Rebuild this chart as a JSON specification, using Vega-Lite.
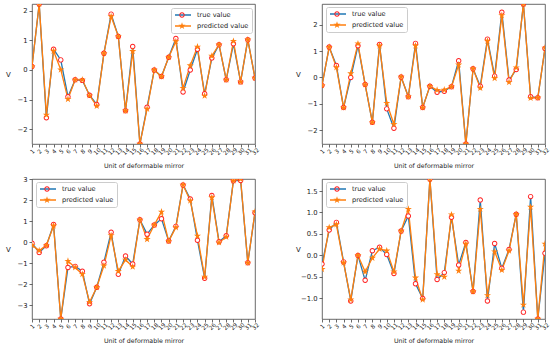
{
"$schema": "https://vega.github.io/schema/vega-lite/v6.json",
"padding": {"left": 5, "top": 3, "right": 0, "bottom": 0},
"bounds": "flush",
"columns": 2,
"spacing": {"row": 35, "column": 67},
"resolve": {"scale": {"stroke": "independent", "fill": "independent", "shape": "independent"}},
"config": {
 "font": "DejaVu Sans",
 "view": {"stroke": "#444444", "strokeWidth": 0.8},
 "axis": {"domain": false, "grid": false, "tickColor": "#444444", "tickSize": 3, "tickWidth": 0.8, "labelColor": "#222222", "titleColor": "#222222", "titleFontWeight": "normal", "labelFontSize": 6.8, "titleFontSize": 6.3, "labelFont": "DejaVu Sans", "titleFont": "DejaVu Sans"},
 "axisX": {"labelFontSize": 5.8, "labelAngle": -45, "labelAlign": "center", "labelBaseline": "middle", "labelPadding": 4, "titleY": 21, "titleBaseline": "middle", "labelOverlap": false, "labelFlush": false},
 "axisY": {"labelPadding": 2, "titleAngle": 0, "titleX": -24, "titleY": 70, "titleAlign": "center", "titleBaseline": "middle", "titleFontSize": 7, "labelFlush": false, "labelOverlap": false},
 "legend": {"labelFont": "DejaVu Sans", "labelFontSize": 6.6, "labelColor": "#222222", "title": null, "padding": 3, "rowPadding": 3, "clipHeight": 8, "labelOffset": 5}
},
"datasets": {
"p1": [
{"u":1,"s":"true value","v":0.12},{"u":2,"s":"true value","v":2.22},{"u":3,"s":"true value","v":-1.61},{"u":4,"s":"true value","v":0.70},{"u":5,"s":"true value","v":0.34},{"u":6,"s":"true value","v":-0.90},{"u":7,"s":"true value","v":-0.33},{"u":8,"s":"true value","v":-0.35},{"u":9,"s":"true value","v":-0.85},{"u":10,"s":"true value","v":-1.16},{"u":11,"s":"true value","v":0.56},{"u":12,"s":"true value","v":1.88},{"u":13,"s":"true value","v":1.13},{"u":14,"s":"true value","v":-1.37},{"u":15,"s":"true value","v":0.79},{"u":16,"s":"true value","v":-2.49},{"u":17,"s":"true value","v":-1.25},{"u":18,"s":"true value","v":0.00},{"u":19,"s":"true value","v":-0.22},{"u":20,"s":"true value","v":0.43},{"u":21,"s":"true value","v":1.06},{"u":22,"s":"true value","v":-0.74},{"u":23,"s":"true value","v":0.00},{"u":24,"s":"true value","v":0.70},{"u":25,"s":"true value","v":-0.80},{"u":26,"s":"true value","v":0.40},{"u":27,"s":"true value","v":0.85},{"u":28,"s":"true value","v":-0.33},{"u":29,"s":"true value","v":0.88},{"u":30,"s":"true value","v":-0.40},{"u":31,"s":"true value","v":1.02},{"u":32,"s":"true value","v":-0.27},
{"u":1,"s":"predicted value","v":0.12},{"u":2,"s":"predicted value","v":2.22},{"u":3,"s":"predicted value","v":-1.51},{"u":4,"s":"predicted value","v":0.64},{"u":5,"s":"predicted value","v":0.01},{"u":6,"s":"predicted value","v":-0.98},{"u":7,"s":"predicted value","v":-0.33},{"u":8,"s":"predicted value","v":-0.33},{"u":9,"s":"predicted value","v":-0.86},{"u":10,"s":"predicted value","v":-1.21},{"u":11,"s":"predicted value","v":0.56},{"u":12,"s":"predicted value","v":1.80},{"u":13,"s":"predicted value","v":1.13},{"u":14,"s":"predicted value","v":-1.37},{"u":15,"s":"predicted value","v":0.63},{"u":16,"s":"predicted value","v":-2.49},{"u":17,"s":"predicted value","v":-1.31},{"u":18,"s":"predicted value","v":0.00},{"u":19,"s":"predicted value","v":-0.22},{"u":20,"s":"predicted value","v":0.43},{"u":21,"s":"predicted value","v":0.96},{"u":22,"s":"predicted value","v":-0.61},{"u":23,"s":"predicted value","v":0.15},{"u":24,"s":"predicted value","v":0.78},{"u":25,"s":"predicted value","v":-0.87},{"u":26,"s":"predicted value","v":0.47},{"u":27,"s":"predicted value","v":0.85},{"u":28,"s":"predicted value","v":-0.33},{"u":29,"s":"predicted value","v":0.97},{"u":30,"s":"predicted value","v":-0.40},{"u":31,"s":"predicted value","v":1.02},{"u":32,"s":"predicted value","v":-0.27}
],
"p2": [
{"u":1,"s":"true value","v":-0.30},{"u":2,"s":"true value","v":1.15},{"u":3,"s":"true value","v":0.45},{"u":4,"s":"true value","v":-1.14},{"u":5,"s":"true value","v":0.00},{"u":6,"s":"true value","v":1.20},{"u":7,"s":"true value","v":-0.27},{"u":8,"s":"true value","v":-1.70},{"u":9,"s":"true value","v":1.25},{"u":10,"s":"true value","v":-1.19},{"u":11,"s":"true value","v":-1.92},{"u":12,"s":"true value","v":0.02},{"u":13,"s":"true value","v":-0.73},{"u":14,"s":"true value","v":1.29},{"u":15,"s":"true value","v":-1.14},{"u":16,"s":"true value","v":-0.33},{"u":17,"s":"true value","v":-0.56},{"u":18,"s":"true value","v":-0.52},{"u":19,"s":"true value","v":-0.35},{"u":20,"s":"true value","v":0.63},{"u":21,"s":"true value","v":-2.52},{"u":22,"s":"true value","v":0.33},{"u":23,"s":"true value","v":-0.33},{"u":24,"s":"true value","v":1.45},{"u":25,"s":"true value","v":0.05},{"u":26,"s":"true value","v":2.47},{"u":27,"s":"true value","v":-0.10},{"u":28,"s":"true value","v":0.30},{"u":29,"s":"true value","v":2.78},{"u":30,"s":"true value","v":-0.73},{"u":31,"s":"true value","v":-0.77},{"u":32,"s":"true value","v":1.10},
{"u":1,"s":"predicted value","v":-0.30},{"u":2,"s":"predicted value","v":1.15},{"u":3,"s":"predicted value","v":0.38},{"u":4,"s":"predicted value","v":-1.14},{"u":5,"s":"predicted value","v":0.15},{"u":6,"s":"predicted value","v":1.28},{"u":7,"s":"predicted value","v":-0.27},{"u":8,"s":"predicted value","v":-1.70},{"u":9,"s":"predicted value","v":1.20},{"u":10,"s":"predicted value","v":-0.97},{"u":11,"s":"predicted value","v":-1.77},{"u":12,"s":"predicted value","v":0.02},{"u":13,"s":"predicted value","v":-0.73},{"u":14,"s":"predicted value","v":1.20},{"u":15,"s":"predicted value","v":-1.14},{"u":16,"s":"predicted value","v":-0.33},{"u":17,"s":"predicted value","v":-0.48},{"u":18,"s":"predicted value","v":-0.47},{"u":19,"s":"predicted value","v":-0.35},{"u":20,"s":"predicted value","v":0.48},{"u":21,"s":"predicted value","v":-2.52},{"u":22,"s":"predicted value","v":0.33},{"u":23,"s":"predicted value","v":-0.40},{"u":24,"s":"predicted value","v":1.38},{"u":25,"s":"predicted value","v":-0.03},{"u":26,"s":"predicted value","v":2.35},{"u":27,"s":"predicted value","v":-0.18},{"u":28,"s":"predicted value","v":0.37},{"u":29,"s":"predicted value","v":2.78},{"u":30,"s":"predicted value","v":-0.78},{"u":31,"s":"predicted value","v":-0.77},{"u":32,"s":"predicted value","v":1.12}
],
"p3": [
{"u":1,"s":"true value","v":-0.05},{"u":2,"s":"true value","v":-0.49},{"u":3,"s":"true value","v":-0.17},{"u":4,"s":"true value","v":0.84},{"u":5,"s":"true value","v":-3.65},{"u":6,"s":"true value","v":-1.20},{"u":7,"s":"true value","v":-1.15},{"u":8,"s":"true value","v":-1.38},{"u":9,"s":"true value","v":-2.93},{"u":10,"s":"true value","v":-2.14},{"u":11,"s":"true value","v":-0.95},{"u":12,"s":"true value","v":0.47},{"u":13,"s":"true value","v":-1.53},{"u":14,"s":"true value","v":-0.66},{"u":15,"s":"true value","v":-1.04},{"u":16,"s":"true value","v":1.06},{"u":17,"s":"true value","v":0.38},{"u":18,"s":"true value","v":0.82},{"u":19,"s":"true value","v":1.11},{"u":20,"s":"true value","v":0.05},{"u":21,"s":"true value","v":0.75},{"u":22,"s":"true value","v":2.72},{"u":23,"s":"true value","v":2.05},{"u":24,"s":"true value","v":0.09},{"u":25,"s":"true value","v":-1.71},{"u":26,"s":"true value","v":2.22},{"u":27,"s":"true value","v":0.02},{"u":28,"s":"true value","v":0.30},{"u":29,"s":"true value","v":2.92},{"u":30,"s":"true value","v":2.93},{"u":31,"s":"true value","v":-0.98},{"u":32,"s":"true value","v":1.40},
{"u":1,"s":"predicted value","v":-0.14},{"u":2,"s":"predicted value","v":-0.40},{"u":3,"s":"predicted value","v":-0.15},{"u":4,"s":"predicted value","v":0.78},{"u":5,"s":"predicted value","v":-3.65},{"u":6,"s":"predicted value","v":-0.90},{"u":7,"s":"predicted value","v":-1.20},{"u":8,"s":"predicted value","v":-1.52},{"u":9,"s":"predicted value","v":-2.85},{"u":10,"s":"predicted value","v":-2.14},{"u":11,"s":"predicted value","v":-1.12},{"u":12,"s":"predicted value","v":0.32},{"u":13,"s":"predicted value","v":-1.38},{"u":14,"s":"predicted value","v":-0.84},{"u":15,"s":"predicted value","v":-1.17},{"u":16,"s":"predicted value","v":1.06},{"u":17,"s":"predicted value","v":0.14},{"u":18,"s":"predicted value","v":0.82},{"u":19,"s":"predicted value","v":1.44},{"u":20,"s":"predicted value","v":0.05},{"u":21,"s":"predicted value","v":0.70},{"u":22,"s":"predicted value","v":2.72},{"u":23,"s":"predicted value","v":1.97},{"u":24,"s":"predicted value","v":0.30},{"u":25,"s":"predicted value","v":-1.65},{"u":26,"s":"predicted value","v":2.12},{"u":27,"s":"predicted value","v":-0.02},{"u":28,"s":"predicted value","v":0.25},{"u":29,"s":"predicted value","v":2.92},{"u":30,"s":"predicted value","v":3.00},{"u":31,"s":"predicted value","v":-0.98},{"u":32,"s":"predicted value","v":1.45}
],
"p4": [
{"u":1,"s":"true value","v":-0.20},{"u":2,"s":"true value","v":0.59},{"u":3,"s":"true value","v":0.77},{"u":4,"s":"true value","v":-0.15},{"u":5,"s":"true value","v":-1.06},{"u":6,"s":"true value","v":0.00},{"u":7,"s":"true value","v":-0.58},{"u":8,"s":"true value","v":0.11},{"u":9,"s":"true value","v":0.19},{"u":10,"s":"true value","v":0.02},{"u":11,"s":"true value","v":-0.42},{"u":12,"s":"true value","v":0.57},{"u":13,"s":"true value","v":0.92},{"u":14,"s":"true value","v":-0.66},{"u":15,"s":"true value","v":-1.00},{"u":16,"s":"true value","v":1.78},{"u":17,"s":"true value","v":-0.56},{"u":18,"s":"true value","v":-0.40},{"u":19,"s":"true value","v":0.89},{"u":20,"s":"true value","v":-0.22},{"u":21,"s":"true value","v":0.30},{"u":22,"s":"true value","v":-0.84},{"u":23,"s":"true value","v":1.29},{"u":24,"s":"true value","v":-1.06},{"u":25,"s":"true value","v":0.28},{"u":26,"s":"true value","v":-0.30},{"u":27,"s":"true value","v":0.14},{"u":28,"s":"true value","v":0.96},{"u":29,"s":"true value","v":-1.32},{"u":30,"s":"true value","v":1.37},{"u":31,"s":"true value","v":-1.48},{"u":32,"s":"true value","v":0.05},
{"u":1,"s":"predicted value","v":-0.32},{"u":2,"s":"predicted value","v":0.65},{"u":3,"s":"predicted value","v":0.72},{"u":4,"s":"predicted value","v":-0.17},{"u":5,"s":"predicted value","v":-1.03},{"u":6,"s":"predicted value","v":0.00},{"u":7,"s":"predicted value","v":-0.38},{"u":8,"s":"predicted value","v":-0.06},{"u":9,"s":"predicted value","v":0.15},{"u":10,"s":"predicted value","v":0.11},{"u":11,"s":"predicted value","v":-0.38},{"u":12,"s":"predicted value","v":0.57},{"u":13,"s":"predicted value","v":1.08},{"u":14,"s":"predicted value","v":-0.52},{"u":15,"s":"predicted value","v":-1.03},{"u":16,"s":"predicted value","v":1.78},{"u":17,"s":"predicted value","v":-0.44},{"u":18,"s":"predicted value","v":-0.50},{"u":19,"s":"predicted value","v":0.95},{"u":20,"s":"predicted value","v":-0.36},{"u":21,"s":"predicted value","v":0.27},{"u":22,"s":"predicted value","v":-0.84},{"u":23,"s":"predicted value","v":1.08},{"u":24,"s":"predicted value","v":-0.93},{"u":25,"s":"predicted value","v":0.09},{"u":26,"s":"predicted value","v":-0.34},{"u":27,"s":"predicted value","v":0.11},{"u":28,"s":"predicted value","v":0.96},{"u":29,"s":"predicted value","v":-1.15},{"u":30,"s":"predicted value","v":1.13},{"u":31,"s":"predicted value","v":-1.48},{"u":32,"s":"predicted value","v":0.27}
]
},
"concat": [
{
 "width": 223, "height": 140,
 "data": {"name": "p1"},
 "encoding": {
  "x": {"field": "u", "type": "quantitative", "scale": {"domain": [1, 32], "nice": false, "zero": false}, "axis": {"values": [1,2,3,4,5,6,7,8,9,10,11,12,13,14,15,16,17,18,19,20,21,22,23,24,25,26,27,28,29,30,31,32], "title": "Unit of deformable mirror"}},
  "y": {"field": "v", "type": "quantitative", "scale": {"domain": [-2.49, 2.22], "nice": false, "zero": false}, "axis": {"values": [-2,-1,0,1,2], "format": "d", "title": "V"}}
 },
 "layer": [
  {"mark": {"type": "line", "strokeWidth": 1.3, "clip": true},
   "encoding": {"stroke": {"field": "s", "type": "nominal", "sort": "descending", "scale": {"range": ["#1f77b4", "#ff7f0e"]},
     "legend": {"orient": "none", "legendX": 139, "legendY": 4, "fillColor": "white", "strokeColor": "#cccccc", "cornerRadius": 2, "symbolType": "stroke", "symbolSize": 256, "symbolStrokeWidth": 1.3}}}},
  {"transform": [{"filter": "datum.s == 'true value'"}],
   "mark": {"type": "point", "filled": true, "fill": "white", "opacity": 1, "size": 22, "shape": "circle", "strokeWidth": 0, "clip": true}},
  {"mark": {"type": "point", "filled": true, "opacity": 1, "size": 56, "strokeWidth": 0, "clip": true},
   "encoding": {
    "fill": {"field": "s", "type": "nominal", "scale": {"domain": ["true value", "predicted value"], "range": ["#ff2020", "#ff7f0e"]}, "legend": {"orient": "none", "legendX": 143, "legendY": 4, "labelExpr": "''", "symbolSize": 56, "symbolStrokeWidth": 0}},
    "shape": {"field": "s", "type": "nominal", "scale": {"domain": ["true value", "predicted value"], "range": ["M0.73,0A0.73,0.73,0,1,1,-0.73,0A0.73,0.73,0,1,1,0.73,0ZM0.47,0A0.47,0.47,0,1,0,-0.47,0A0.47,0.47,0,1,0,0.47,0Z", "M0,-1L0.2245,-0.309L0.9511,-0.309L0.3633,0.118L0.5878,0.809L0,0.382L-0.5878,0.809L-0.3633,0.118L-0.9511,-0.309L-0.2245,-0.309Z"]}, "legend": {"orient": "none", "legendX": 143, "legendY": 4, "labelExpr": "''", "symbolSize": 56, "symbolStrokeWidth": 0}}
   }}
 ]
},
{
 "width": 223, "height": 140,
 "data": {"name": "p2"},
 "encoding": {
  "x": {"field": "u", "type": "quantitative", "scale": {"domain": [1, 32], "nice": false, "zero": false}, "axis": {"values": [1,2,3,4,5,6,7,8,9,10,11,12,13,14,15,16,17,18,19,20,21,22,23,24,25,26,27,28,29,30,31,32], "title": "Unit of deformable mirror"}},
  "y": {"field": "v", "type": "quantitative", "scale": {"domain": [-2.52, 2.78], "nice": false, "zero": false}, "axis": {"values": [-2,-1,0,1,2], "format": "d", "title": "V"}}
 },
 "layer": [
  {"mark": {"type": "line", "strokeWidth": 1.3, "clip": true},
   "encoding": {"stroke": {"field": "s", "type": "nominal", "sort": "descending", "scale": {"range": ["#1f77b4", "#ff7f0e"]},
     "legend": {"orient": "none", "legendX": 4, "legendY": 3, "fillColor": "white", "strokeColor": "#cccccc", "cornerRadius": 2, "symbolType": "stroke", "symbolSize": 256, "symbolStrokeWidth": 1.3}}}},
  {"transform": [{"filter": "datum.s == 'true value'"}],
   "mark": {"type": "point", "filled": true, "fill": "white", "opacity": 1, "size": 22, "shape": "circle", "strokeWidth": 0, "clip": true}},
  {"mark": {"type": "point", "filled": true, "opacity": 1, "size": 56, "strokeWidth": 0, "clip": true},
   "encoding": {
    "fill": {"field": "s", "type": "nominal", "scale": {"domain": ["true value", "predicted value"], "range": ["#ff2020", "#ff7f0e"]}, "legend": {"orient": "none", "legendX": 8, "legendY": 3, "labelExpr": "''", "symbolSize": 56, "symbolStrokeWidth": 0}},
    "shape": {"field": "s", "type": "nominal", "scale": {"domain": ["true value", "predicted value"], "range": ["M0.73,0A0.73,0.73,0,1,1,-0.73,0A0.73,0.73,0,1,1,0.73,0ZM0.47,0A0.47,0.47,0,1,0,-0.47,0A0.47,0.47,0,1,0,0.47,0Z", "M0,-1L0.2245,-0.309L0.9511,-0.309L0.3633,0.118L0.5878,0.809L0,0.382L-0.5878,0.809L-0.3633,0.118L-0.9511,-0.309L-0.2245,-0.309Z"]}, "legend": {"orient": "none", "legendX": 8, "legendY": 3, "labelExpr": "''", "symbolSize": 56, "symbolStrokeWidth": 0}}
   }}
 ]
},
{
 "width": 223, "height": 140,
 "data": {"name": "p3"},
 "encoding": {
  "x": {"field": "u", "type": "quantitative", "scale": {"domain": [1, 32], "nice": false, "zero": false}, "axis": {"values": [1,2,3,4,5,6,7,8,9,10,11,12,13,14,15,16,17,18,19,20,21,22,23,24,25,26,27,28,29,30,31,32], "title": "Unit of deformable mirror"}},
  "y": {"field": "v", "type": "quantitative", "scale": {"domain": [-3.65, 3.0], "nice": false, "zero": false}, "axis": {"values": [-3,-2,-1,0,1,2,3], "format": "d", "title": "V"}}
 },
 "layer": [
  {"mark": {"type": "line", "strokeWidth": 1.3, "clip": true},
   "encoding": {"stroke": {"field": "s", "type": "nominal", "sort": "descending", "scale": {"range": ["#1f77b4", "#ff7f0e"]},
     "legend": {"orient": "none", "legendX": 4, "legendY": 3, "fillColor": "white", "strokeColor": "#cccccc", "cornerRadius": 2, "symbolType": "stroke", "symbolSize": 256, "symbolStrokeWidth": 1.3}}}},
  {"transform": [{"filter": "datum.s == 'true value'"}],
   "mark": {"type": "point", "filled": true, "fill": "white", "opacity": 1, "size": 22, "shape": "circle", "strokeWidth": 0, "clip": true}},
  {"mark": {"type": "point", "filled": true, "opacity": 1, "size": 56, "strokeWidth": 0, "clip": true},
   "encoding": {
    "fill": {"field": "s", "type": "nominal", "scale": {"domain": ["true value", "predicted value"], "range": ["#ff2020", "#ff7f0e"]}, "legend": {"orient": "none", "legendX": 8, "legendY": 3, "labelExpr": "''", "symbolSize": 56, "symbolStrokeWidth": 0}},
    "shape": {"field": "s", "type": "nominal", "scale": {"domain": ["true value", "predicted value"], "range": ["M0.73,0A0.73,0.73,0,1,1,-0.73,0A0.73,0.73,0,1,1,0.73,0ZM0.47,0A0.47,0.47,0,1,0,-0.47,0A0.47,0.47,0,1,0,0.47,0Z", "M0,-1L0.2245,-0.309L0.9511,-0.309L0.3633,0.118L0.5878,0.809L0,0.382L-0.5878,0.809L-0.3633,0.118L-0.9511,-0.309L-0.2245,-0.309Z"]}, "legend": {"orient": "none", "legendX": 8, "legendY": 3, "labelExpr": "''", "symbolSize": 56, "symbolStrokeWidth": 0}}
   }}
 ]
},
{
 "width": 223, "height": 140,
 "data": {"name": "p4"},
 "encoding": {
  "x": {"field": "u", "type": "quantitative", "scale": {"domain": [1, 32], "nice": false, "zero": false}, "axis": {"values": [1,2,3,4,5,6,7,8,9,10,11,12,13,14,15,16,17,18,19,20,21,22,23,24,25,26,27,28,29,30,31,32], "title": "Unit of deformable mirror"}},
  "y": {"field": "v", "type": "quantitative", "scale": {"domain": [-1.48, 1.78], "nice": false, "zero": false}, "axis": {"values": [-1,-0.5,0,0.5,1,1.5], "format": ".1f", "title": "V"}}
 },
 "layer": [
  {"mark": {"type": "line", "strokeWidth": 1.3, "clip": true},
   "encoding": {"stroke": {"field": "s", "type": "nominal", "sort": "descending", "scale": {"range": ["#1f77b4", "#ff7f0e"]},
     "legend": {"orient": "none", "legendX": 4, "legendY": 3, "fillColor": "white", "strokeColor": "#cccccc", "cornerRadius": 2, "symbolType": "stroke", "symbolSize": 256, "symbolStrokeWidth": 1.3}}}},
  {"transform": [{"filter": "datum.s == 'true value'"}],
   "mark": {"type": "point", "filled": true, "fill": "white", "opacity": 1, "size": 22, "shape": "circle", "strokeWidth": 0, "clip": true}},
  {"mark": {"type": "point", "filled": true, "opacity": 1, "size": 56, "strokeWidth": 0, "clip": true},
   "encoding": {
    "fill": {"field": "s", "type": "nominal", "scale": {"domain": ["true value", "predicted value"], "range": ["#ff2020", "#ff7f0e"]}, "legend": {"orient": "none", "legendX": 8, "legendY": 3, "labelExpr": "''", "symbolSize": 56, "symbolStrokeWidth": 0}},
    "shape": {"field": "s", "type": "nominal", "scale": {"domain": ["true value", "predicted value"], "range": ["M0.73,0A0.73,0.73,0,1,1,-0.73,0A0.73,0.73,0,1,1,0.73,0ZM0.47,0A0.47,0.47,0,1,0,-0.47,0A0.47,0.47,0,1,0,0.47,0Z", "M0,-1L0.2245,-0.309L0.9511,-0.309L0.3633,0.118L0.5878,0.809L0,0.382L-0.5878,0.809L-0.3633,0.118L-0.9511,-0.309L-0.2245,-0.309Z"]}, "legend": {"orient": "none", "legendX": 8, "legendY": 3, "labelExpr": "''", "symbolSize": 56, "symbolStrokeWidth": 0}}
   }}
 ]
}
]
}
